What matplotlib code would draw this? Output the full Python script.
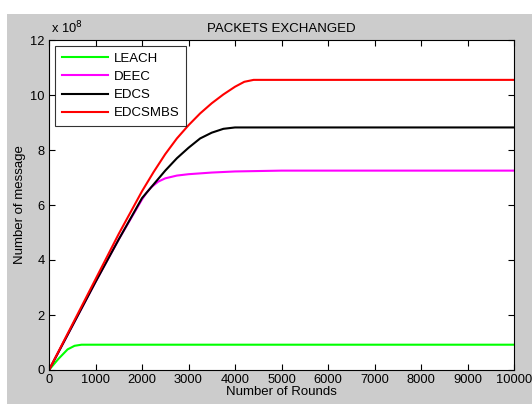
import matplotlib
matplotlib.use("Agg")
import matplotlib.pyplot as plt
from matplotlib.patches import Rectangle

plt.rcParams["font.family"] = ["Liberation Sans", "DejaVu Sans"]

# values in units of 1e8 messages
leach_x = [0, 200, 400, 550, 700, 10000]
leach_y = [0, 0.4, 0.75, 0.88, 0.92, 0.92]

deec_x = [0, 500, 1000, 1500, 2000, 2100, 2200, 2350, 2500, 2750, 3000, 3500, 4000, 5000, 10000]
deec_y = [0, 1.6, 3.2, 4.75, 6.2, 6.45, 6.65, 6.85, 6.97, 7.07, 7.12, 7.18, 7.22, 7.25, 7.25]

edcs_x = [0, 500, 1000, 1500, 2000, 2250, 2500, 2750, 3000, 3250, 3500, 3750, 4000, 10000]
edcs_y = [0, 1.6, 3.2, 4.75, 6.25, 6.75, 7.25, 7.7, 8.08, 8.42, 8.63, 8.77, 8.82, 8.82]

edcsmbs_x = [0, 500, 1000, 1500, 2000, 2250, 2500, 2750, 3000, 3250, 3500, 3750,
             4000, 4200, 4400, 10000]
edcsmbs_y = [0, 1.65, 3.3, 4.95, 6.5, 7.2, 7.85, 8.42, 8.9, 9.33, 9.7, 10.02,
             10.3, 10.48, 10.55, 10.55]

series = [
    ("LEACH", leach_x, leach_y, "#00ff00"),
    ("DEEC", deec_x, deec_y, "#ff00ff"),
    ("EDCS", edcs_x, edcs_y, "#000000"),
    ("EDCSMBS", edcsmbs_x, edcsmbs_y, "#ff0000"),
]

fig = plt.figure(figsize=(5.32, 4.04), dpi=100, facecolor="white")
bg = Rectangle((7 / 532, 0), 1 - 7 / 532, 1 - 14 / 404,
               transform=fig.transFigure, facecolor="#cccccc",
               edgecolor="none", zorder=-10)
fig.patches.append(bg)

ax = fig.add_axes([49 / 532, 34 / 404, 465 / 532, 330 / 404])
ax.set_zorder(5)
for name, x, y, c in series:
    ax.plot(x, y, color=c, linewidth=1.5, label=name)

ax.set_xlim(0, 10000)
ax.set_ylim(0, 12)
ax.set_xticks(range(0, 10001, 1000))
ax.set_yticks(range(0, 13, 2))
ax.tick_params(direction="in", top=True, right=True, labelsize=9.3, length=4.5,
               width=0.8, pad=3)
for s in ax.spines.values():
    s.set_linewidth(0.8)

ax.set_title("PACKETS EXCHANGED", fontsize=9.5, pad=6)
ax.set_xlabel("Number of Rounds", fontsize=9.5, labelpad=0)
ax.set_ylabel("Number of message", fontsize=9.5, labelpad=3)
ax.text(0.005, 1.012, r"x 10$^{8}$", transform=ax.transAxes, fontsize=9.3,
        ha="left", va="bottom")

leg = ax.legend(loc="upper left", fontsize=9.5, frameon=True, fancybox=False,
                edgecolor="black", handlelength=3.5, borderaxespad=0.45,
                labelspacing=0.45, handletextpad=0.45, borderpad=0.5)
leg.get_frame().set_linewidth(0.8)

fig.savefig("out.png", dpi=100, facecolor=fig.get_facecolor())
